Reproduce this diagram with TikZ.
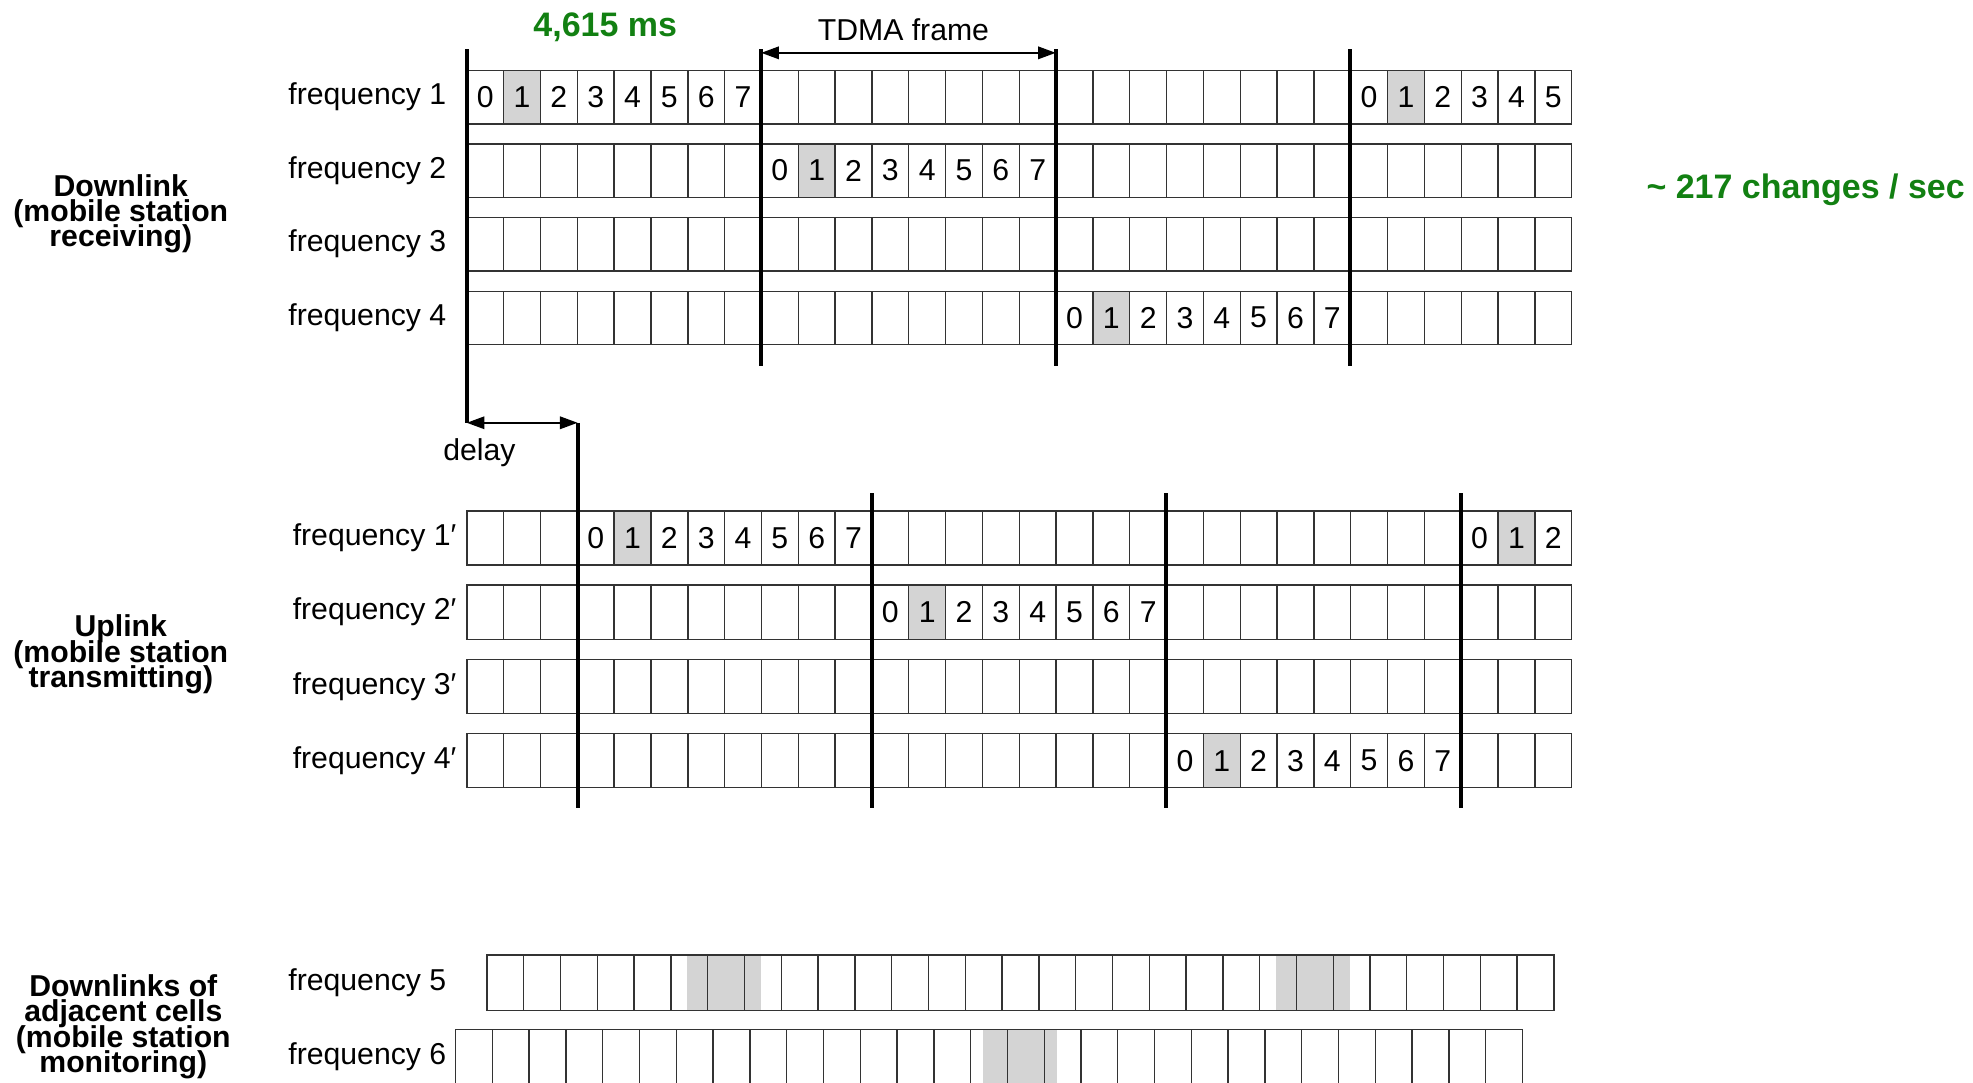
\documentclass[tikz,border=0pt]{standalone}
\usepackage{fontspec}
\setmainfont{Liberation Sans}
\usepackage{xcolor}
\usetikzlibrary{arrows.meta}

\definecolor{slotgray}{RGB}{212,212,212}
\definecolor{hopgreen}{RGB}{18,128,18}
\newcommand{\tightlines}{\lineskiplimit=-20pt\relax}

\begin{document}
\begin{tikzpicture}[x=0.5pt, y=-0.5pt,
    cell/.style={draw=black!80, line width=0.55pt},
    frameline/.style={line width=1.6pt},
    span/.style={{Triangle[length=7pt,width=5pt]}-{Triangle[length=7pt,width=5pt]}, line width=0.6pt},
    freq/.style={anchor=east, inner sep=0pt, font=\fontsize{12}{14}\selectfont},
    num/.style={inner sep=0pt, font=\fontsize{12}{14}\selectfont},
    side/.style={align=center, inner sep=0pt, font={\fontsize{12}{10}\selectfont\bfseries\tightlines}},
    note/.style={inner sep=0pt, text=hopgreen, font=\fontsize{13.5}{16}\selectfont\bfseries}]

    \useasboundingbox (0,0) rectangle (1568,860);
    \clip (0,0) rectangle (1568,860);

    % downlink
    \foreach \y/\a in {56/0, 56/24, 114.5/8, 231.5/16}
        \fill[slotgray] (371+\a*29.27+29.27,\y) rectangle ++(29.27,42.5);
    \foreach \r/\y in {1/56, 2/114.5, 3/173, 4/231.5} {
        \node[freq] (dlf\r) at (355,\y+21) {frequency \r};
        \foreach \s in {0,...,29}
            \draw[cell] (371+\s*29.27,\y) rectangle ++(29.27,42.5);
    }
    \foreach \r/\y/\a/\n in {1/56/0/7, 1/56/24/5, 2/114.5/8/7, 4/231.5/16/7}
        \foreach \k in {0,...,\n}
            \node[num] (dl\r-\a-\k) at (371+\a*29.27+\k*29.27+14.6,\y+21) {\k};

    % uplink
    \foreach \y/\a in {406/3, 406/27, 465/11, 583/19}
        \fill[slotgray] (371+\a*29.27+29.27,\y) rectangle ++(29.27,43);
    \foreach \r/\y in {1/406, 2/465, 3/524, 4/583} {
        \node[freq] (ulf\r) at (363,\y+21.5) {frequency \r′};
        \foreach \s in {0,...,29}
            \draw[cell] (371+\s*29.27,\y) rectangle ++(29.27,43);
    }
    \foreach \r/\y/\a/\n in {1/406/3/7, 1/406/27/2, 2/465/11/7, 4/583/19/7}
        \foreach \k in {0,...,\n}
            \node[num] (ul\r-\a-\k) at (371+\a*29.27+\k*29.27+14.6,\y+21.5) {\k};

    % adjacent cells
    \fill[slotgray] (387+5.45*29.24,759) rectangle ++(58.5,44);
    \fill[slotgray] (387+21.45*29.24,759) rectangle ++(58.5,44);
    \fill[slotgray] (362+14.35*29.24,818) rectangle ++(58.5,44);
    \foreach \s in {0,...,28} {
        \draw[cell] (387+\s*29.24,759) rectangle ++(29.24,44);
        \draw[cell] (362+\s*29.24,818) rectangle ++(29.24,44);
    }
    \node[freq] (nbf5) at (355,781) {frequency 5};
    \node[freq] (nbf6) at (355,840) {frequency 6};

    % frame borders
    \coordinate (dtop0) at (371,39);
    \coordinate (dbot0) at (371,336);
    \foreach \i/\x in {1/605, 2/839, 3/1073} {
        \coordinate (dtop\i) at (\x,39);
        \coordinate (dbot\i) at (\x,291);
        \coordinate (fr\i) at (\x,42);
        \draw[frameline] (dtop\i) -- (dbot\i);
    }
    \draw[frameline] (dtop0) -- (dbot0);
    \coordinate (utop0) at (459,336);
    \coordinate (ubot0) at (459,642);
    \draw[frameline] (utop0) -- (ubot0);
    \foreach \i/\x in {1/693, 2/927, 3/1161} {
        \coordinate (utop\i) at (\x,392);
        \coordinate (ubot\i) at (\x,642);
        \draw[frameline] (utop\i) -- (ubot\i);
    }

    \node[num] (tdma) at (718,24) {TDMA frame};
    \draw[span] (fr1) -- (fr2);
    \node[num] (delay) at (381,360) {delay};
    \draw[span] (dbot0) -- (utop0);

    % side labels
    \node[side] (down) at (96,170) {Downlink\\(mobile station\\receiving)};
    \node[side] (up) at (96,520) {Uplink\\(mobile station\\transmitting)};
    \node[side] (adj) at (98,816) {Downlinks of\\adjacent cells\\(mobile station\\monitoring)};

    \node[note] (period) at (481,22) {4,615 ms};
    \node[note] (hops) at (1435,151) {\textasciitilde{} 217 changes / sec};
\end{tikzpicture}
\end{document}
